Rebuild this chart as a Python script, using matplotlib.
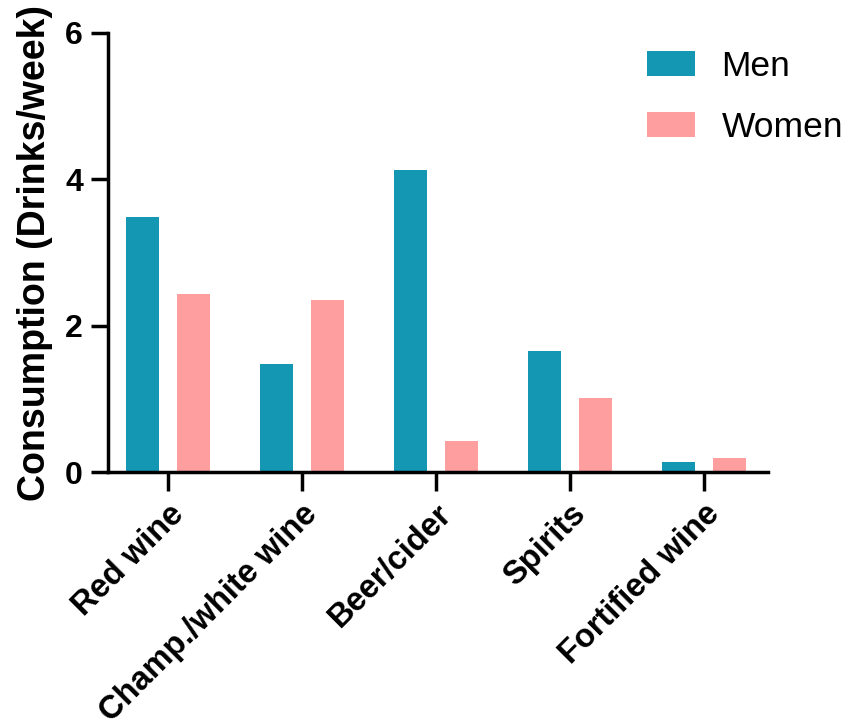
import matplotlib.pyplot as plt
import numpy as np

plt.rcParams["font.family"] = ["Liberation Sans", "DejaVu Sans"]

categories = ["Red wine", "Champ./white wine", "Beer/cider", "Spirits", "Fortified wine"]
men = [3.48, 1.47, 4.13, 1.66, 0.14]
women = [2.43, 2.35, 0.42, 1.01, 0.19]
yticks = [0, 2, 4, 6]

teal = "#1397B2"
pink = "#FF9E9E"


def create_bar_chart():
    fig = plt.figure(figsize=(8.49, 7.28), dpi=100)
    ax = fig.add_axes([0.1272, 0.3516, 0.7774, 0.6031])

    x = np.arange(len(categories))
    width = 0.25
    offset = 0.19
    ax.bar(x - offset, men, width, color=teal, label="Men")
    ax.bar(x + offset, women, width, color=pink, label="Women")

    ax.set_xlim(-0.448, 4.478)
    ax.set_ylim(0, 6)
    ax.set_yticks(yticks)
    ax.set_xticks(x)
    ax.set_xticklabels(categories, rotation=45, ha="right", rotation_mode="anchor",
                       fontsize=23.5, fontweight="bold")
    ax.set_yticklabels([str(t) for t in yticks], fontsize=23, fontweight="bold")

    for side in ["top", "right"]:
        ax.spines[side].set_visible(False)
    for side in ["left", "bottom"]:
        ax.spines[side].set_linewidth(2.5)

    ax.tick_params(axis="y", length=12, width=2.5, pad=6)
    ax.tick_params(axis="x", length=14, width=2.5, pad=5)

    ax.set_ylabel("Consumption (Drinks/week)", fontsize=27, fontweight="bold", labelpad=9)

    ax.legend(loc="upper left", bbox_to_anchor=(647 / 849, 1 - 50 / 728),
              bbox_transform=fig.transFigure, frameon=False, fontsize=25.5,
              handlelength=1.35, handleheight=0.69, handletextpad=0.75,
              labelspacing=0.78, borderpad=0, borderaxespad=0)

    plt.savefig("out.png", dpi=100)


if __name__ == "__main__":
    create_bar_chart()
